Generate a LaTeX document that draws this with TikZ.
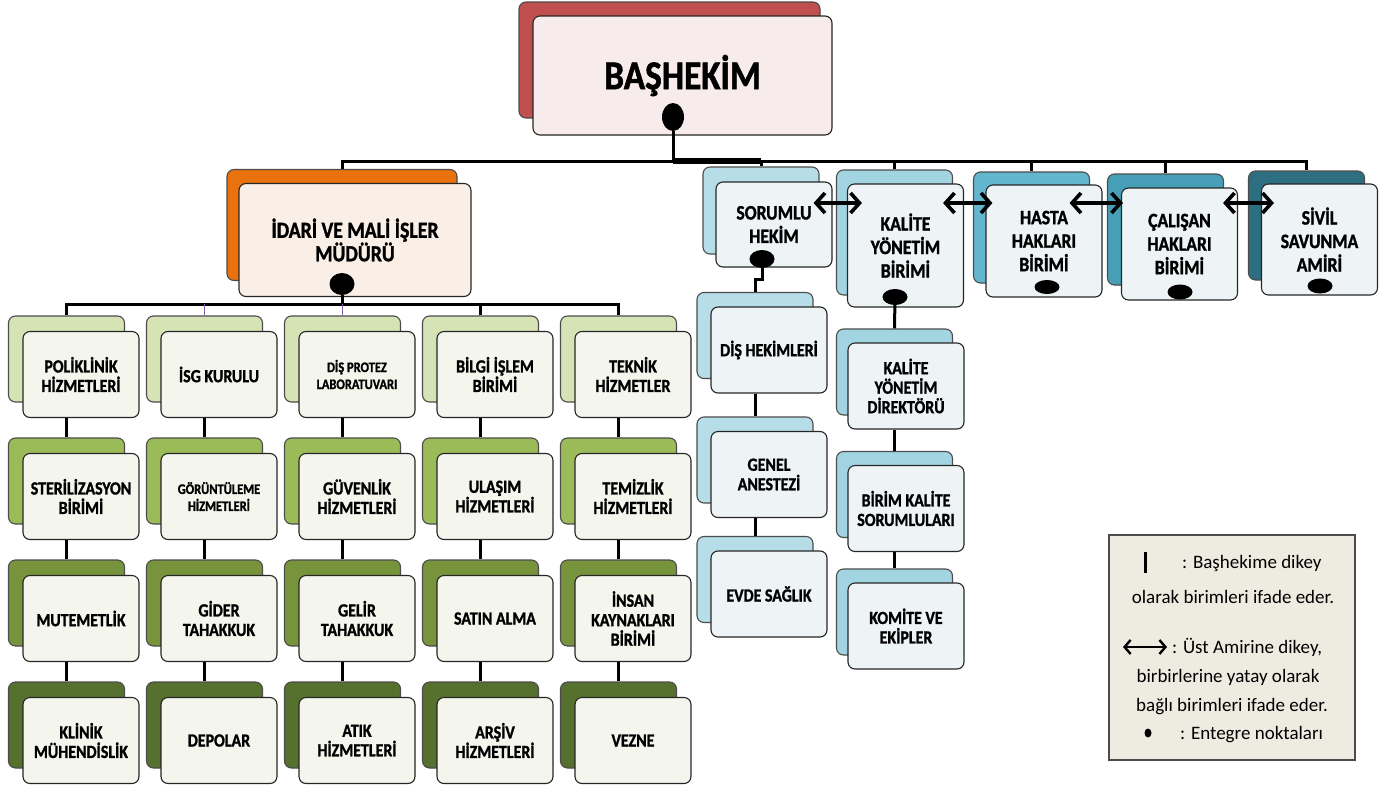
\documentclass[tikz,border=0pt]{standalone}
\usepackage{fontspec}
\setmainfont{Carlito}
\newfontfamily\boxfont{Carlito}[FakeStretch=0.86, BoldFeatures={FakeBold=1.3}]
\usetikzlibrary{calc,positioning,shapes.geometric,arrows.meta}

\definecolor{bashred}{HTML}{C0504D}
\definecolor{bashfront}{HTML}{F7EBEB}
\definecolor{idorange}{HTML}{E9720F}
\definecolor{idfront}{HTML}{FAEFE7}
\definecolor{row0}{HTML}{D5E3B5}
\definecolor{row1}{HTML}{9BBB59}
\definecolor{row2}{HTML}{77933C}
\definecolor{row3}{HTML}{56702E}
\definecolor{greenfront}{HTML}{F4F6EE}
\definecolor{blueA}{HTML}{B7DEE8}
\definecolor{blueB}{HTML}{A3D4E2}
\definecolor{blueC}{HTML}{62B6CE}
\definecolor{blueD}{HTML}{469FB6}
\definecolor{blueE}{HTML}{2D6F80}
\definecolor{bluefront}{HTML}{EEF4F6}
\definecolor{legendfill}{HTML}{EEECE1}
\definecolor{busviolet}{HTML}{7F5FA8}

\tikzset{
  backbox/.style={draw=black!70, line width=1.1pt, rounded corners=7pt, fill=#1, minimum width=116pt, minimum height=86pt},
  frontbox/.style={draw=black!85, line width=1.1pt, rounded corners=7pt, fill=#1, minimum width=116pt, minimum height=86pt, align=center, inner sep=1pt},
  unittext/.style={font=\boxfont\bfseries\fontsize{18.5}{19.5}\selectfont},
  smalltext/.style={font=\boxfont\bfseries\fontsize{14.5}{17}\selectfont},
  bigtext/.style={font=\boxfont\bfseries\fontsize{20.5}{23.5}\selectfont},
  joint/.style={ellipse, fill=black, inner sep=0pt, minimum width=25pt, minimum height=#1},
  orgline/.style={line width=3pt},
  sideline/.style={line width=1pt, busviolet},
  peerarrow/.style={line width=3.6pt, {Straight Barb[length=9pt,width=20pt]}-{Straight Barb[length=9pt,width=20pt]}},
  legendtext/.style={font=\fontsize{19}{22}\selectfont, inner sep=0pt}
}

\begin{document}
\begin{tikzpicture}[x=1pt,y=-1pt]
\useasboundingbox[fill=white] (0,0) rectangle (1398,787);
\coordinate (topbus) at (0,161);
\coordinate (gridbus) at (0,304);
\coordinate (peerline) at (0,203);

% basHekim
\node[backbox=bashred, minimum width=301, minimum height=116] (bas-b) at (669.5,60) {};
\node[frontbox=bashfront, minimum width=299, minimum height=119, font=\boxfont\bfseries\fontsize{41}{44}\selectfont] (bas) at (682.5,75.5) {BAŞHEKİM};
\node[joint=28pt, minimum width=22pt] (basdot) at (673,117) {};

% idari ve mali isler
\node[backbox=idorange, minimum width=230, minimum height=111] (id-b) at (342,225) {};
\node[frontbox=idfront, minimum width=232, minimum height=113, font=\boxfont\bfseries\fontsize{23}{23.5}\selectfont] (id) at (355,240) {İDARİ VE MALİ İŞLER\\MÜDÜRÜ};
\node[joint=22pt] (iddot) at (342,284) {};

% five columns under idari
\foreach \c/\r/\sty/\txt in {
  0/0/unittext/{POLİKLİNİK\\HİZMETLERİ}, 0/1/unittext/{STERİLİZASYON\\BİRİMİ},
  0/2/unittext/{MUTEMETLİK}, 0/3/unittext/{KLİNİK\\MÜHENDİSLİK},
  1/0/unittext/{İSG KURULU}, 1/1/smalltext/{GÖRÜNTÜLEME\\HİZMETLERİ},
  1/2/unittext/{GİDER\\TAHAKKUK}, 1/3/unittext/{DEPOLAR},
  2/0/smalltext/{DİŞ PROTEZ\\LABORATUVARI}, 2/1/unittext/{GÜVENLİK\\HİZMETLERİ},
  2/2/unittext/{GELİR\\TAHAKKUK}, 2/3/unittext/{ATIK\\HİZMETLERİ},
  3/0/unittext/{BİLGİ İŞLEM\\BİRİMİ}, 3/1/unittext/{ULAŞIM\\HİZMETLERİ},
  3/2/unittext/{SATIN ALMA}, 3/3/unittext/{ARŞİV\\HİZMETLERİ},
  4/0/unittext/{TEKNİK\\HİZMETLER}, 4/1/unittext/{TEMİZLİK\\HİZMETLERİ},
  4/2/unittext/{İNSAN\\KAYNAKLARI\\BİRİMİ}, 4/3/unittext/{VEZNE}}
{
  \node[backbox=row\r] (g\c\r-b) at (66.5+138*\c,359+122*\r) {};
  \node[frontbox=greenfront, \sty] (g\c\r) at (81+138*\c,374.5+122*\r) {\txt};
}
\foreach \c in {0,...,4}
  \foreach \r/\s in {0/1,1/2,2/3}
    \draw[orgline] (g\c\r.south -| g\c\r-b) -- (g\c\s-b.north);
\draw[orgline] (iddot) -- (iddot |- gridbus);
\draw[orgline] (g00-b.north) -- (g00-b.north |- gridbus) -- (g40-b.north |- gridbus) -- (g40-b.north);
\draw[orgline] (g30-b.north) -- (g30-b.north |- gridbus);
\draw[sideline] (g10-b.north) -- (g10-b.north |- gridbus);
\draw[sideline] (g20-b.north) -- (g20-b.north |- gridbus);

% units beside idari
\foreach \n/\bx/\by/\fx/\fy/\bh/\fh/\col/\txt in {
  soru/761/210.5/774/224.5/87/85/blueA/{SORUMLU\\HEKİM},
  kal/894.5/232.5/905.5/245.5/125/123/blueB/{KALİTE\\YÖNETİM\\BİRİMİ},
  hasta/1031.5/227.5/1044/241/111/112/blueC/{HASTA\\HAKLARI\\BİRİMİ},
  calis/1165.5/229.5/1179.5/244/111/112/blueD/{ÇALIŞAN\\HAKLARI\\BİRİMİ},
  sivil/1306.5/225.5/1319.5/239.5/109/111/blueE/{SİVİL\\SAVUNMA\\AMİRİ}}
{
  \node[backbox=\col, minimum height=\bh] (\n-b) at (\bx,\by) {};
  \node[frontbox=bluefront, bigtext, minimum height=\fh] (\n) at (\fx,\fy) {\txt};
}
\node[joint=18pt] (sorudot) at (762,259) {};
\node[joint=16pt] (kaldot) at (895,297) {};
\node[joint=14pt] (hastadot) at (1047,287) {};
\node[joint=15pt] (calisdot) at (1180,292) {};
\node[joint=15pt] (sivildot) at (1320,286) {};

% top bus
\draw[orgline] (basdot) -- (basdot |- topbus);
\draw[orgline] (id-b.north) -- (id-b.north |- topbus) -- (sivil-b.north |- topbus) -- (sivil-b.north);
\draw[line width=5.5pt] (basdot |- topbus) -- (soru-b.north |- topbus);
\foreach \n in {soru,kal,hasta,calis}
  \draw[orgline] (\n-b.north) -- (\n-b.north |- topbus);

% horizontal links
\draw[peerarrow] ($(soru.east |- peerline)+(-19,0)$) -- ($(kal.west |- peerline)+(15,0)$);
\draw[peerarrow] ($(kal.east |- peerline)+(-21,0)$) -- ($(hasta.west |- peerline)+(7,0)$);
\draw[peerarrow] ($(hasta.east |- peerline)+(-33,0)$) -- ($(calis.west |- peerline)+(2,0)$);
\draw[peerarrow] ($(calis.east |- peerline)+(-15,0)$) -- ($(sivil.west |- peerline)+(13,0)$);

% under sorumlu hekim
\foreach \n/\y/\txt in {dis/335.5/{DİŞ HEKİMLERİ}, gen/460/{GENEL\\ANESTEZİ}, evde/579.5/{EVDE SAĞLIK}}
{
  \node[backbox=blueA] (\n-b) at (755,\y) {};
  \node[frontbox=bluefront, unittext] (\n) at (769,\y+14.5) {\txt};
}
\draw[orgline] (sorudot) |- ($(dis-b.north)+(0,-12)$) -- (dis-b.north);
\draw[orgline] (dis.south -| dis-b) -- (gen-b.north);
\draw[orgline] (gen.south -| gen-b) -- (evde-b.north);

% under kalite yonetim birimi
\foreach \n/\y/\txt in {kyd/372/{KALİTE\\YÖNETİM\\DİREKTÖRÜ}, bks/494.5/{BİRİM KALİTE\\SORUMLULARI}, kom/612/{KOMİTE VE\\EKİPLER}}
{
  \node[backbox=blueB] (\n-b) at (894.5,\y) {};
  \node[frontbox=bluefront, unittext] (\n) at (906,\y+14) {\txt};
}
\draw[orgline] (kaldot) -- (kyd-b.north);
\draw[orgline] (kyd.south -| kyd-b) -- (bks-b.north);
\draw[orgline] (bks.south -| bks-b) -- (kom-b.north);

% legend
\node[draw=black!70, line width=1.2pt, fill=legendfill, minimum width=246, minimum height=225, inner sep=0pt] (legend) at (1232,647.5) {};
\draw[line width=3pt] (1145,552) -- (1145,573);
\node[legendtext, anchor=west] (leg1) at (1182,563) {: Başhekime dikey};
\node[legendtext] (leg2) at (1233,597) {olarak birimleri ifade eder.};
\draw[line width=2.4pt, {Straight Barb[length=6pt,width=14pt]}-{Straight Barb[length=6pt,width=14pt]}] (1123,647) -- (1167,647);
\node[legendtext, anchor=west] (leg3) at (1172,647) {: Üst Amirine dikey,};
\node[legendtext] (leg4) at (1228,677) {birbirlerine yatay olarak};
\node[legendtext] (leg5) at (1232,707) {bağlı birimleri ifade eder.};
\fill (1148,733) ellipse (3.5 and 4.5);
\node[legendtext, anchor=west] (leg6) at (1180,735) {: Entegre noktaları};
\end{tikzpicture}
\end{document}
